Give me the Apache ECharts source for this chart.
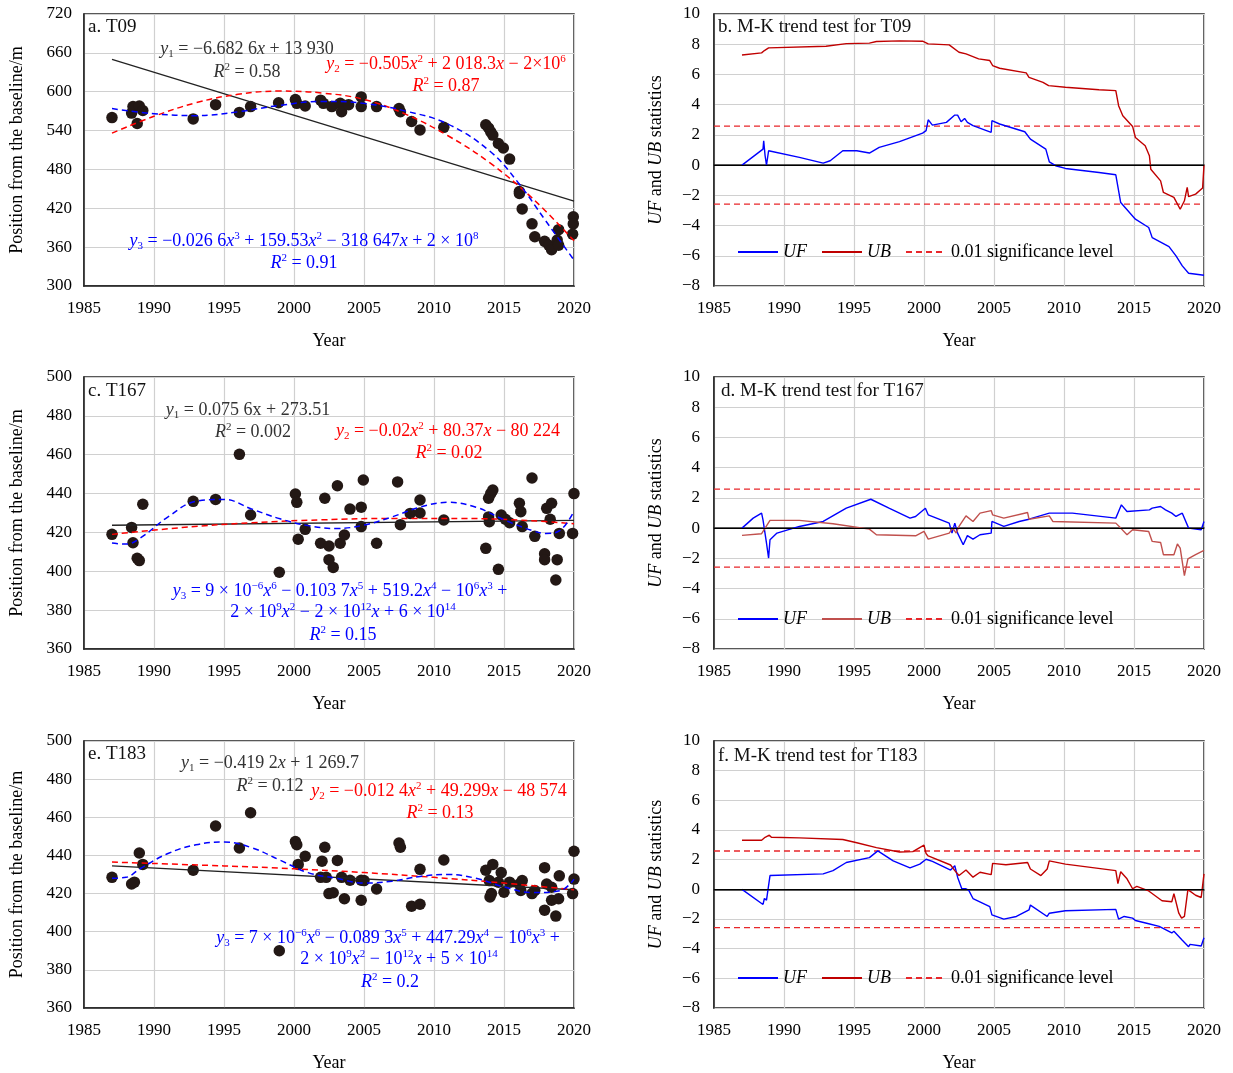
<!DOCTYPE html>
<html>
<head>
<meta charset="utf-8">
<script src="https://cdn.jsdelivr.net/npm/echarts@6/dist/echarts.min.js"></script>
<style>
  html, body { margin: 0; padding: 0; background: #ffffff; overflow: hidden; }
  #chart { width: 1233px; height: 1073px; display: block; }
</style>
</head>
<body>
<div id="chart"></div>
<script>
// ---- data ----
// a. T09 shoreline positions
const t09Year = [1987.0, 1988.4, 1988.5, 1988.95, 1989.2, 1988.8, 1992.8, 1994.4, 1996.1, 1996.9, 1998.9, 2000.1, 2000.2, 2000.8, 2001.9, 2002.1, 2002.7, 2003.3, 2003.4, 2003.9, 2004.8, 2004.8, 2005.9, 2007.5, 2007.6, 2008.4, 2009.0, 2010.7, 2013.7, 2013.9, 2014.05, 2014.2, 2014.6, 2014.95, 2015.4, 2016.1, 2016.1, 2016.3, 2017.0, 2017.2, 2017.9, 2018.2, 2018.4, 2018.8, 2018.9, 2018.9, 2019.95, 2019.95, 2019.9]
const t09Pos = [560, 567, 577, 578, 571, 551, 558, 580, 568, 577, 583, 588, 582, 578, 587, 582, 577, 582, 569, 580, 592, 577, 577, 574, 569, 554, 541, 545, 549, 544, 538, 533, 520, 513, 496, 446, 443, 419, 396, 376, 369, 363, 356, 371, 363, 387, 407, 396, 380]
const t09LinYear = [1987, 2020]
const t09Lin = [650, 431]
const t09QuadYear = [1987, 1990, 1993, 1996, 1999, 2002, 2005, 2008, 2011, 2014, 2017, 2020]
const t09Quad = [536, 562, 583, 596, 601, 598, 588, 565, 532, 490, 436, 370]
const t09CubYear = [1987, 1990, 1993, 1996, 1999, 2002, 2005, 2008, 2011, 2014, 2016, 2018, 2020]
const t09Cub = [574, 566, 563, 569, 579, 585, 582, 570, 550, 508, 460, 400, 340]

// c. T167
const t167Year = [1987, 1988.4, 1988.5, 1988.8, 1988.95, 1989.2, 1992.8, 1994.4, 1996.1, 1996.9, 1998.95, 2000.1, 2000.2, 2000.3, 2000.8, 2001.9, 2002.5, 2002.2, 2002.5, 2002.8, 2003.1, 2003.3, 2003.6, 2004.0, 2004.8, 2004.95, 2004.8, 2005.9, 2007.4, 2007.6, 2008.3, 2009.0, 2009.0, 2010.7, 2013.7, 2013.9, 2014.05, 2014.2, 2013.9, 2013.95, 2014.6, 2014.8, 2015.1, 2015.4, 2016.1, 2016.2, 2016.3, 2017.0, 2017.2, 2017.9, 2017.9, 2018.05, 2018.4, 2018.3, 2018.8, 2018.7, 2018.95, 2019.9, 2020]
const t167Pos = [419, 422.6, 414.7, 406.7, 405.5, 434.5, 436, 437, 460.2, 429, 399.5, 439.8, 435.5, 416.5, 421.6, 414.4, 413, 437.6, 406, 402, 444, 414.4, 418.7, 432, 433, 447, 423, 414.4, 446, 424, 429.8, 436.7, 430, 426.4, 411.8, 437.6, 440, 441.8, 428, 425.5, 401, 429, 426.8, 425, 435, 430.7, 423, 448, 418, 409, 406, 432.4, 435, 426.8, 406, 395.5, 419.5, 419.5, 440]
const t167LinYear = [1987, 2020]
const t167Lin = [423.7, 426.2]
const t167QuadYear = [1987, 1992, 1997, 2002, 2007, 2012, 2017, 2020]
const t167Quad = [419, 422.5, 425, 426.5, 427.2, 427.2, 426, 424.5]
const t167PolyYear = [1987, 1988, 1989, 1991, 1993, 1995, 1997, 1999, 2001, 2003, 2005, 2007, 2009, 2011, 2013, 2015, 2017, 2018, 2019, 2020]
const t167Poly = [414.5, 414, 417, 428, 436, 437, 432, 427, 423.5, 422, 423.8, 428, 433, 435.5, 433, 426.5, 421, 419.5, 421, 431]

// e. T183
const t183Year = [1987, 1988.4, 1988.6, 1988.95, 1989.2, 1992.8, 1994.4, 1996.1, 1996.9, 1998.95, 2000.1, 2000.2, 2000.3, 2000.8, 2001.9, 2002.2, 2002.0, 2002.5, 2002.8, 2003.1, 2002.3, 2003.4, 2003.6, 2004.0, 2004.8, 2004.8, 2005.0, 2005.9, 2007.5, 2007.6, 2008.4, 2009.0, 2009.0, 2010.7, 2013.7, 2014.2, 2013.95, 2014.0, 2014.1, 2014.6, 2014.8, 2015.0, 2015.4, 2016.1, 2016.3, 2016.2, 2017.0, 2017.2, 2017.9, 2017.9, 2018.05, 2018.4, 2018.4, 2018.7, 2018.9, 2018.95, 2019.9, 2020, 2020]
const t183Pos = [428.5, 425, 426, 441.3, 435.3, 432.2, 455.4, 443.9, 462.4, 390, 447.3, 445.6, 435.3, 439.6, 428.5, 444.3, 437, 420, 420.4, 437.4, 428.5, 428.5, 417.3, 427, 427, 416.5, 426.8, 422.4, 446.5, 444.3, 413.4, 414.4, 432.7, 437.6, 432.2, 435.3, 426.8, 418.2, 420, 426, 431, 420.7, 426, 425, 426.8, 421.6, 420, 421.6, 433.6, 411.3, 425, 423.3, 416.5, 408.2, 417.3, 429.3, 420, 427.6, 442.2]
const t183LinYear = [1987, 2020]
const t183Lin = [434.5, 422]
const t183QuadYear = [1987, 1995, 2000, 2005, 2010, 2015, 2020]
const t183Quad = [436.5, 434.5, 433, 431, 428.5, 425.5, 422]
const t183PolyYear = [1987, 1988, 1989, 1991, 1993, 1995, 1997, 1999, 2001, 2003, 2005, 2007, 2009, 2011, 2013, 2015, 2017, 2019, 2020]
const t183Poly = [428, 428.5, 433, 441, 445.6, 447, 444, 437.5, 431, 428, 425.5, 426.5, 429, 430, 428, 423.5, 420.5, 421.5, 427.5]

// M-K statistics
const t09UFyear = [1987, 1988.5, 1988.55, 1988.65, 1988.75, 1988.9, 1991.1, 1992.8, 1993.3, 1994.2, 1995.2, 1996.1, 1996.8, 1998.25, 1999.9, 2000.15, 2000.3, 2000.6, 2001.6, 2002.2, 2002.4, 2002.65, 2002.9, 2003.1, 2003.5, 2004.8, 2004.85, 2005.4, 2007.2, 2007.6, 2008.7, 2008.95, 2009.4, 2010.1, 2012.5, 2013.7, 2014.05, 2015.1, 2016.05, 2016.3, 2017.5, 2018.0, 2018.45, 2018.9, 2020]
const t09UF = [0, 1.06, 1.61, 0.62, 0, 0.95, 0.51, 0.13, 0.29, 0.95, 0.95, 0.8, 1.17, 1.55, 2.12, 2.28, 3.0, 2.65, 2.83, 3.31, 3.31, 2.87, 3.09, 2.83, 2.61, 2.17, 2.94, 2.72, 2.21, 1.72, 1.06, 0.22, -0.04, -0.22, -0.49, -0.64, -2.48, -3.58, -4.13, -4.8, -5.39, -6.01, -6.67, -7.16, -7.29]
const t09UByear = [1987, 1988.4, 1988.6, 1988.9, 1993.0, 1994.45, 1996.1, 1996.6, 1998.25, 1999.9, 2000.3, 2001.8, 2002.5, 2003.0, 2003.9, 2004.7, 2004.9, 2005.4, 2007.3, 2007.5, 2008.5, 2008.9, 2010.1, 2012.5, 2013.7, 2013.9, 2014.2, 2014.9, 2015.1, 2015.8, 2016.1, 2016.2, 2016.9, 2017.1, 2017.85, 2018.3, 2018.6, 2018.8, 2018.9, 2019.4, 2019.9, 2020]
const t09UB = [7.29, 7.43, 7.58, 7.76, 7.87, 8.04, 8.07, 8.18, 8.22, 8.2, 8.02, 7.96, 7.47, 7.36, 7.03, 6.92, 6.59, 6.41, 6.1, 5.81, 5.48, 5.26, 5.15, 4.99, 4.93, 3.93, 3.27, 2.56, 1.83, 1.28, 0.62, -0.27, -1.04, -1.81, -2.14, -2.92, -2.36, -1.48, -2.08, -1.92, -1.52, 0]

const t167UFyear = [1987, 1987.8, 1988.4, 1988.5, 1988.75, 1988.9, 1989, 1989.5, 1991.1, 1992.8, 1994.45, 1996.2, 1997.5, 1999.0, 1999.4, 2000.1, 2000.3, 2001.8, 2002.0, 2002.2, 2002.4, 2002.8, 2003.1, 2003.5, 2004.0, 2004.8, 2004.85, 2005.7, 2006.8, 2007.5, 2008.95, 2010.6, 2013.7, 2013.9, 2014.1, 2014.5, 2016.1, 2016.3, 2016.9, 2017.25, 2017.7, 2018.0, 2018.2, 2018.45, 2018.9, 2019.8, 2020]
const t167UF = [0, 0.66, 0.99, 0.55, -0.99, -1.98, -0.77, -0.33, 0.11, 0.44, 1.32, 1.91, 1.32, 0.66, 0.77, 1.32, 0.88, 0.33, -0.33, 0.33, -0.33, -1.1, -0.5, -0.73, -0.44, -0.33, 0.44, 0.11, 0.44, 0.59, 0.99, 0.99, 0.66, 1.1, 1.54, 1.1, 1.21, 1.32, 1.43, 1.21, 0.99, 0.77, 0.88, 0.99, 0, -0.11, 0.44]
const t167UByear = [1987, 1988.4, 1988.65, 1989, 1991.1, 1993.5, 1996.1, 1996.6, 1999.4, 2000, 2000.3, 2001.8, 2002.05, 2002.3, 2002.5, 2003, 2003.5, 2004, 2004.8, 2004.9, 2005.7, 2007.4, 2007.5, 2008.95, 2009.2, 2013.7, 2014.05, 2014.5, 2014.9, 2016.05, 2016.3, 2016.9, 2017.1, 2017.85, 2018.1, 2018.3, 2018.6, 2018.85, 2019.4, 2020]
const t167UB = [-0.48, -0.37, 0, 0.51, 0.51, 0.29, -0.07, -0.44, -0.51, -0.22, -0.73, -0.33, 0, -0.33, 0.11, 0.81, 0.44, 0.99, 1.16, 0.88, 0.66, 1.03, 0.59, 0.81, 0.44, 0.33, 0, -0.44, -0.11, -0.22, -0.88, -0.95, -1.76, -1.76, -1.05, -1.32, -3.14, -2.04, -1.76, -1.47]

const t183UFyear = [1987, 1988.5, 1988.6, 1988.75, 1989, 1992.8, 1993.5, 1994.45, 1996.1, 1996.7, 1997.8, 1999, 1999.7, 2000.15, 2000.6, 2001.9, 2002.2, 2002.4, 2002.7, 2003, 2003.2, 2003.5, 2004.7, 2004.85, 2005.7, 2006.6, 2007.5, 2007.6, 2008.8, 2008.95, 2010.1, 2013.7, 2013.9, 2014.3, 2014.9, 2015.1, 2016.05, 2016.8, 2017.7, 2017.85, 2018.45, 2018.9, 2019, 2019.8, 2020]
const t183UF = [0, -1.02, -0.62, -0.73, 0.93, 1.04, 1.26, 1.81, 2.14, 2.59, 1.92, 1.44, 1.7, 2.03, 1.88, 1.3, 1.59, 0.82, 0.04, 0.04, -0.07, -0.62, -1.17, -1.72, -2.01, -1.83, -1.39, -1.06, -1.83, -1.61, -1.44, -1.35, -2.01, -1.83, -1.94, -2.1, -2.32, -2.5, -2.94, -2.83, -3.43, -3.87, -3.71, -3.82, -3.27]
const t183UByear = [1987, 1988.4, 1988.65, 1988.95, 1989.1, 1991.1, 1994.2, 1995.2, 1996.6, 1998.25, 1999.2, 2000, 2000.15, 2000.3, 2001.9, 2002.2, 2002.5, 2003, 2003.5, 2004, 2004.8, 2004.9, 2005.85, 2007.4, 2007.6, 2008.35, 2008.8, 2008.95, 2010.1, 2013.7, 2013.85, 2014.05, 2014.5, 2014.9, 2015.2, 2016.05, 2017.0, 2017.7, 2017.85, 2018.2, 2018.4, 2018.6, 2018.85, 2019.4, 2019.8, 2020]
const t183UB = [3.31, 3.31, 3.51, 3.65, 3.51, 3.47, 3.36, 3.14, 2.81, 2.52, 2.54, 2.98, 2.41, 2.25, 1.64, 1.26, 0.93, 1.3, 0.82, 1.15, 0.99, 1.75, 1.66, 1.81, 1.37, 0.93, 1.37, 1.92, 1.7, 1.26, 0.38, 1.19, 0.71, 0.04, 0.2, -0.11, -0.77, -0.84, -0.29, -1.61, -1.94, -1.83, -0.02, -0.4, -0.55, 1.04]

const sigLevel = 2.58
const yearRange = [1985, 2020]

// ---- helpers ----
const F = 'Liberation Serif'
function zip(xs, ys) {
    let out = []
    for (let i = 0; i < Math.min(xs.length, ys.length); i++) out.push([xs[i], ys[i]])
    return out
}
function rich(color) {
    const base = {fontFamily: F, fontWeight: 'normal', color: color}
    return {
        n: Object.assign({fontSize: 18, lineHeight: 21}, base),
        i: Object.assign({fontSize: 18, lineHeight: 21, fontStyle: 'italic'}, base),
        sup: Object.assign({fontSize: 11, verticalAlign: 'top', lineHeight: 10}, base),
        sub: Object.assign({fontSize: 11, verticalAlign: 'bottom', lineHeight: 9}, base)
    }
}
function label(text, x, y, color, align) {
    return {
        text: text, left: x, top: y, padding: 0,
        textAlign: align || 'center', textVerticalAlign: 'middle',
        textStyle: {fontFamily: F, fontSize: 18, fontWeight: 'normal', color: color, rich: rich(color)}
    }
}
function panelTitle(text, x, y) {
    return {
        text: text, left: x, top: y, padding: 0, textAlign: 'left', textVerticalAlign: 'middle',
        textStyle: {fontFamily: F, fontSize: 19, fontWeight: 'normal', color: '#111'}
    }
}
const K = '#333333', R = '#ff0000', B = '#0000ff'
const R2 = v => '{i|R}{sup|2}{n| = ' + v + '}'

const titles = [
    panelTitle('a. T09', 88, 27),
    label('{i|y}{sub|1}{n| = −6.682 6}{i|x}{n| + 13 930}', 247, 49, K),
    label(R2('0.58'), 247, 72, K),
    label('{i|y}{sub|2}{n| = −0.505}{i|x}{sup|2}{n| + 2 018.3}{i|x}{n| − 2×10}{sup|6}', 446, 64, R),
    label(R2('0.87'), 446, 86, R),
    label('{i|y}{sub|3}{n| = −0.026 6}{i|x}{sup|3}{n| + 159.53}{i|x}{sup|2}{n| − 318 647}{i|x}{n| + 2 × 10}{sup|8}', 304, 241, B),
    label(R2('0.91'), 304, 263, B),

    panelTitle('c. T167', 88, 391),
    label('{i|y}{sub|1}{n| = 0.075 6x + 273.51}', 248, 410, K),
    label(R2('0.002'), 253, 432, K),
    label('{i|y}{sub|2}{n| = −0.02}{i|x}{sup|2}{n| + 80.37}{i|x}{n| − 80 224}', 448, 431, R),
    label(R2('0.02'), 449, 453, R),
    label('{i|y}{sub|3}{n| = 9 × 10}{sup|−6}{i|x}{sup|6}{n| − 0.103 7}{i|x}{sup|5}{n| + 519.2}{i|x}{sup|4}{n| − 10}{sup|6}{i|x}{sup|3}{n| +}', 340, 591, B),
    label('{n|2 × 10}{sup|9}{i|x}{sup|2}{n| − 2 × 10}{sup|12}{i|x}{n| + 6 × 10}{sup|14}', 343, 612, B),
    label(R2('0.15'), 343, 635, B),

    panelTitle('e. T183', 88, 754),
    label('{i|y}{sub|1}{n| = −0.419 2}{i|x}{n| + 1 269.7}', 270, 763, K),
    label(R2('0.12'), 270, 786, K),
    label('{i|y}{sub|2}{n| = −0.012 4}{i|x}{sup|2}{n| + 49.299}{i|x}{n| − 48 574}', 439, 791, R),
    label(R2('0.13'), 440, 813, R),
    label('{i|y}{sub|3}{n| = 7 × 10}{sup|−6}{i|x}{sup|6}{n| − 0.089 3}{i|x}{sup|5}{n| + 447.29}{i|x}{sup|4}{n| − 10}{sup|6}{i|x}{sup|3}{n| +}', 388, 938, B),
    label('{n|2 × 10}{sup|9}{i|x}{sup|2}{n| − 10}{sup|12}{i|x}{n| + 5 × 10}{sup|14}', 399, 959, B),
    label(R2('0.2'), 390, 982, B),

    panelTitle('b. M-K trend test for T09', 718, 27),
    panelTitle('d. M-K trend test for T167', 721, 391),
    panelTitle('f. M-K trend test for T183', 718, 756)
]

// ---- layout ----
const tops = [14, 377, 741]
let grids = [], xAxes = [], yAxes = [], series = [], legends = []
const axisText = {fontFamily: F, fontSize: 17, color: '#000'}
const splitGrey = {show: true, lineStyle: {color: '#d0d0d0', width: 1.2}}

tops.forEach(function (top, row) {
    ;[84, 714].forEach(function (left, col) {
        const g = grids.length
        grids.push({left: left, top: top, width: 490, height: 272, show: true,
            borderColor: '#222', borderWidth: 1.5, backgroundColor: 'transparent'})
        xAxes.push({
            gridIndex: g, type: 'value', min: yearRange[0], max: yearRange[1], interval: 5,
            name: 'Year', nameLocation: 'middle', nameGap: 46,
            nameTextStyle: {fontFamily: F, fontSize: 18, color: '#000'},
            axisLine: {show: true, lineStyle: {color: '#222', width: 1.5}},
            axisTick: {show: false},
            axisLabel: Object.assign({margin: 14, formatter: v => String(v)}, axisText),
            splitLine: splitGrey
        })
        if (col === 0) {
            const isA = row === 0
            yAxes.push({
                gridIndex: g, type: 'value',
                min: isA ? 300 : 360, max: isA ? 720 : 500, interval: isA ? 60 : 20,
                name: 'Position from the baseline/m', nameLocation: 'middle', nameGap: 58,
                nameTextStyle: {fontFamily: F, fontSize: 18, color: '#000'},
                axisLine: {show: true, lineStyle: {color: '#222', width: 1.5}},
                axisTick: {show: false}, axisLabel: Object.assign({margin: 12}, axisText),
                splitLine: splitGrey
            })
        } else {
            yAxes.push({
                gridIndex: g, type: 'value', min: -8, max: 10, interval: 2,
                name: '{i|UF}{n| and }{i|UB}{n| statistics}', nameLocation: 'middle', nameGap: 49,
                nameTextStyle: {fontFamily: F, fontSize: 18, color: '#000',
                    rich: {i: {fontFamily: F, fontSize: 18, fontStyle: 'italic', color: '#000'},
                           n: {fontFamily: F, fontSize: 18, color: '#000'}}},
                axisLine: {show: true, lineStyle: {color: '#222', width: 1.5}},
                axisTick: {show: false},
                axisLabel: Object.assign({margin: 14, formatter: v => String(v).replace('-', '−')}, axisText),
                splitLine: splitGrey
            })
        }
    })
})

const dash = [6, 4]
function scatterPanel(g, yr, pos, linY, lin, qY, q, pY, p) {
    series.push({type: 'line', xAxisIndex: g, yAxisIndex: g, data: zip(linY, lin), symbol: 'none',
        lineStyle: {color: '#222', width: 1.3}, z: 3, silent: true})
    series.push({type: 'line', xAxisIndex: g, yAxisIndex: g, data: zip(qY, q), symbol: 'none', smooth: 0.4,
        lineStyle: {color: R, width: 1.5, type: dash}, z: 4, silent: true})
    series.push({type: 'line', xAxisIndex: g, yAxisIndex: g, data: zip(pY, p), symbol: 'none', smooth: 0.4,
        lineStyle: {color: B, width: 1.5, type: dash}, z: 4, silent: true})
    series.push({type: 'scatter', xAxisIndex: g, yAxisIndex: g, data: zip(yr, pos), symbolSize: 11.5,
        itemStyle: {color: '#231815', opacity: 1}, z: 2, silent: true})
}
scatterPanel(0, t09Year, t09Pos, t09LinYear, t09Lin, t09QuadYear, t09Quad, t09CubYear, t09Cub)
scatterPanel(2, t167Year, t167Pos, t167LinYear, t167Lin, t167QuadYear, t167Quad, t167PolyYear, t167Poly)
scatterPanel(4, t183Year, t183Pos, t183LinYear, t183Lin, t183QuadYear, t183Quad, t183PolyYear, t183Poly)

function mkPanel(g, ufY, uf, ubY, ub, ubColor, legendTop) {
    const sfx = String(g)
    series.push({name: 'UF' + sfx, type: 'line', xAxisIndex: g, yAxisIndex: g, data: zip(ufY, uf), symbol: 'none',
        lineStyle: {color: B, width: 1.4}, itemStyle: {color: B}, z: 4,
        markLine: {silent: true, symbol: 'none', label: {show: false},
            lineStyle: {color: '#000', width: 1.2, type: 'solid'}, data: [{yAxis: 0}]}})
    series.push({name: 'UB' + sfx, type: 'line', xAxisIndex: g, yAxisIndex: g, data: zip(ubY, ub), symbol: 'none',
        lineStyle: {color: ubColor, width: 1.4}, itemStyle: {color: ubColor}, z: 4})
    series.push({name: 'sig' + sfx, type: 'line', xAxisIndex: g, yAxisIndex: g,
        data: zip(yearRange, [sigLevel, sigLevel]), symbol: 'none',
        lineStyle: {color: '#e8262a', width: 1.4, type: dash}, itemStyle: {color: '#e8262a'}, z: 3})
    series.push({name: 'sigLow' + sfx, type: 'line', xAxisIndex: g, yAxisIndex: g,
        data: zip(yearRange, [-sigLevel, -sigLevel]), symbol: 'none',
        lineStyle: {color: '#e8262a', width: 1.4, type: dash}, z: 3})
    legends.push({
        left: 732, top: legendTop, itemWidth: 40, itemHeight: 14, itemGap: 14, selectedMode: false,
        itemStyle: {opacity: 0},
        data: ['UF' + sfx, 'UB' + sfx, 'sig' + sfx],
        formatter: function (name) {
            if (name.indexOf('sig') === 0) return '{n|0.01 significance level}'
            return '{i|' + name.slice(0, 2) + '}'
        },
        textStyle: {fontFamily: F, fontSize: 18, color: '#000',
            rich: {i: {fontFamily: F, fontSize: 18, fontStyle: 'italic', color: '#000'},
                   n: {fontFamily: F, fontSize: 18, color: '#000'}}}
    })
}
mkPanel(1, t09UFyear, t09UF, t09UByear, t09UB, '#c00000', 238)
mkPanel(3, t167UFyear, t167UF, t167UByear, t167UB, '#c0504d', 605)
mkPanel(5, t183UFyear, t183UF, t183UByear, t183UB, '#c00000', 964)

const chart = echarts.init(document.getElementById('chart'))
chart.setOption({
    animation: false,
    backgroundColor: '#ffffff',
    title: titles,
    legend: legends,
    grid: grids,
    xAxis: xAxes,
    yAxis: yAxes,
    series: series
})
</script>
</body>
</html>
